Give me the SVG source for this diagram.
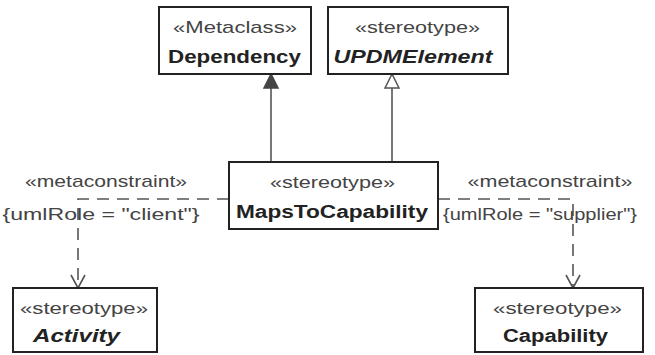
<svg xmlns="http://www.w3.org/2000/svg" width="655" height="355" viewBox="0 0 655 355">
<style>
.box{fill:#fff;stroke:#222;stroke-width:2}
text{font-family:"Liberation Sans",Arial,sans-serif;font-size:17px;fill:#333;text-anchor:middle}
.st{fill:#444}
.nm{font-weight:bold;font-size:18px;fill:#222}
.it{font-style:italic}
.ln{fill:none;stroke:#555;stroke-width:1.6}
.dash{stroke-dasharray:12 8}
</style>
<rect width="655" height="355" fill="#fff"/>
<g id="connectors">
  <line class="ln" x1="271" y1="162" x2="271" y2="88"/>
  <polygon points="271,74 264,88 278,88" fill="#444" stroke="#444" stroke-width="1.5"/>
  <line class="ln" x1="392" y1="162" x2="392" y2="88"/>
  <polygon points="392,74 385,88 399,88" fill="#fff" stroke="#555" stroke-width="1.5"/>
  <polyline class="ln dash" points="229,199 78,199 78,287"/>
  <polyline class="ln" points="71,275 78,288 85,275"/>
  <polyline class="ln dash" points="438,199 573,199 573,287"/>
  <polyline class="ln" points="566,275 573,288 580,275"/>
</g>
<g id="labels">
  <text class="st" x="106" y="187" textLength="162" lengthAdjust="spacingAndGlyphs">«metaconstraint»</text>
  <text class="st" x="101" y="220" textLength="197" lengthAdjust="spacingAndGlyphs">{umlRole = "client"}</text>
  <text class="st" x="550" y="187" textLength="165" lengthAdjust="spacingAndGlyphs">«metaconstraint»</text>
  <text class="st" x="540" y="220" textLength="194" lengthAdjust="spacingAndGlyphs">{umlRole = "supplier"}</text>
</g>
<g id="Dependency">
  <rect class="box" x="159" y="7" width="152" height="67"/>
  <text class="st" x="235" y="33" textLength="124" lengthAdjust="spacingAndGlyphs">«Metaclass»</text>
  <text class="nm" x="234.5" y="63" textLength="133" lengthAdjust="spacingAndGlyphs">Dependency</text>
</g>
<g id="UPDMElement">
  <rect class="box" x="328" y="7" width="180" height="67"/>
  <text class="st" x="417.5" y="33" textLength="125" lengthAdjust="spacingAndGlyphs">«stereotype»</text>
  <text class="nm it" x="413" y="63" textLength="159" lengthAdjust="spacingAndGlyphs">UPDMElement</text>
</g>
<g id="MapsToCapability">
  <rect class="box" x="229" y="162" width="209" height="67"/>
  <text class="st" x="332.5" y="188" textLength="125" lengthAdjust="spacingAndGlyphs">«stereotype»</text>
  <text class="nm" x="332" y="218" textLength="192" lengthAdjust="spacingAndGlyphs">MapsToCapability</text>
</g>
<g id="Activity">
  <rect class="box" x="13" y="288" width="144" height="64"/>
  <text class="st" x="84" y="314" textLength="128" lengthAdjust="spacingAndGlyphs">«stereotype»</text>
  <text class="nm it" x="76.5" y="342" textLength="87" lengthAdjust="spacingAndGlyphs">Activity</text>
</g>
<g id="Capability">
  <rect class="box" x="475" y="288" width="168" height="64"/>
  <text class="st" x="557.5" y="314" textLength="129" lengthAdjust="spacingAndGlyphs">«stereotype»</text>
  <text class="nm" x="555.5" y="342" textLength="105" lengthAdjust="spacingAndGlyphs">Capability</text>
</g>
</svg>
